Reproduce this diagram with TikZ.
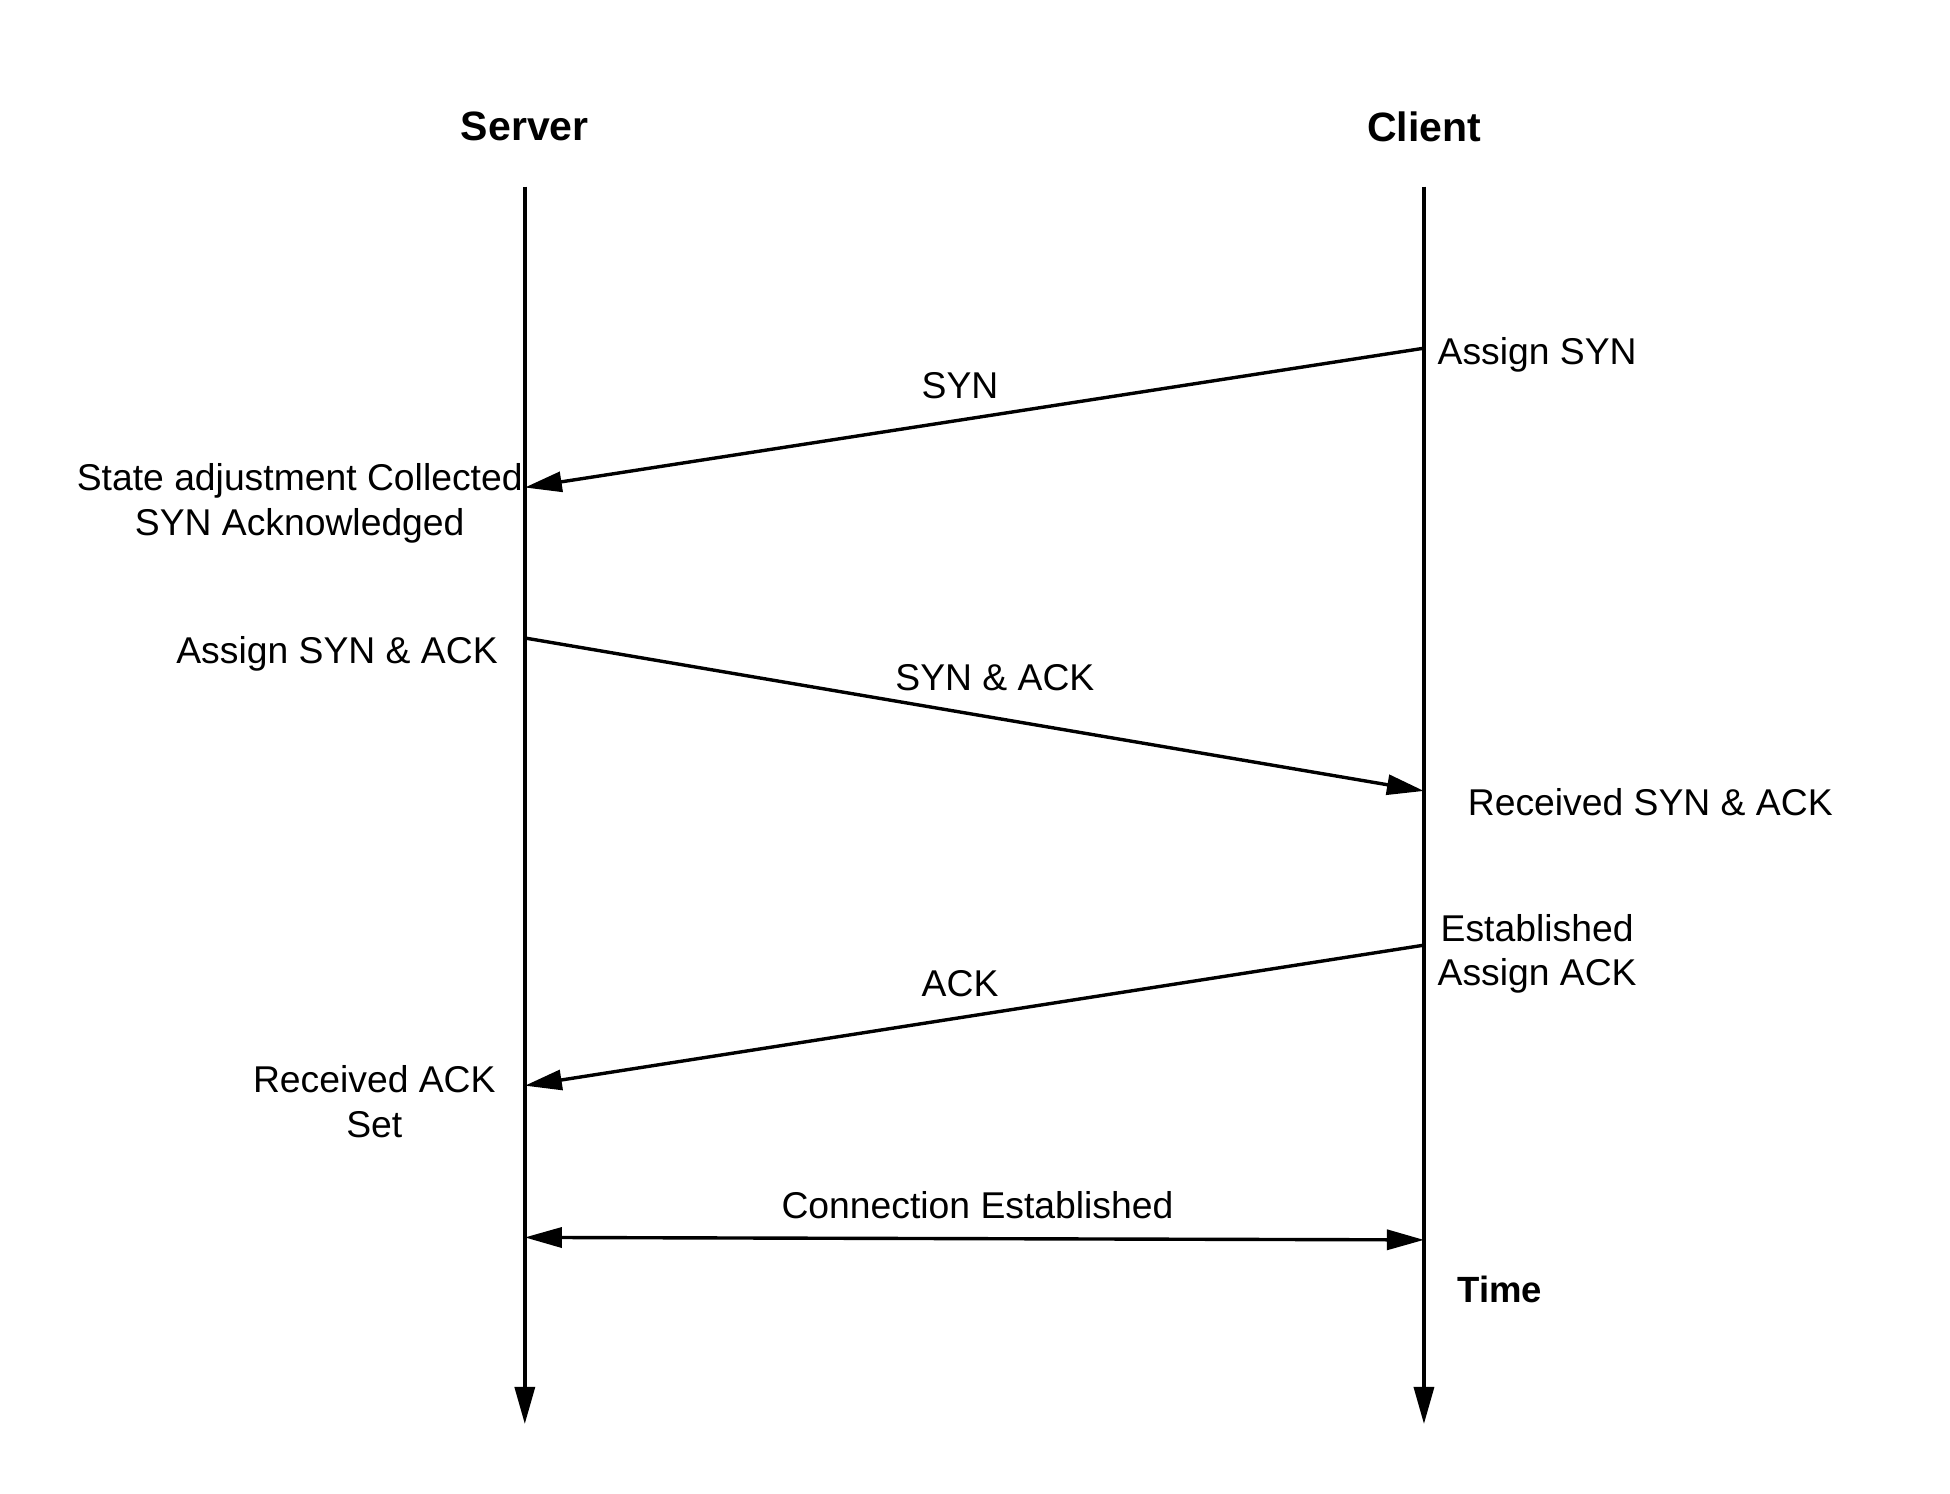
\documentclass[tikz,border=0pt]{standalone}
\usepackage{fontspec}
\setmainfont{Liberation Sans}
\usetikzlibrary{arrows.meta}
\begin{document}
\begin{tikzpicture}[x=1.2436pt,y=-1.2436pt,
  lifeline/.style={line width=3.4pt,-{Triangle[length=37pt,width=20pt]}},
  msg/.style={line width=3.4pt,-{Triangle[length=37pt,width=20pt]}},
  both/.style={line width=3.4pt,{Triangle[length=37pt,width=20pt]}-{Triangle[length=37pt,width=20pt]}},
  title/.style={font=\fontsize{41}{49}\selectfont\bfseries,inner sep=0pt},
  lbl/.style={font=\fontsize{37.3}{44.8}\selectfont,inner sep=0pt,align=center},
  tlbl/.style={font=\fontsize{36.5}{44}\selectfont\bfseries,inner sep=0pt}]
\useasboundingbox (0,0) rectangle (1568,1201);
\fill[white] (0,0) rectangle (1568,1201);
% titles
\node[title] (server) at (422,102) {Server};
\node[title] (client) at (1145,102) {Client};
% lifelines
\coordinate (s0) at (422,150);
\coordinate (s1) at (422,1145);
\coordinate (c0) at (1145,150);
\coordinate (c1) at (1145,1145);
\draw[lifeline] (s0) -- (s1);
\draw[lifeline] (c0) -- (c1);
% message endpoints
\coordinate (a1) at (1145,280);
\coordinate (a2) at (422,392);
\coordinate (b1) at (422,513);
\coordinate (b2) at (1145,636);
\coordinate (d1) at (1145,760);
\coordinate (d2) at (422,873);
\coordinate (e1) at (422,995);
\coordinate (e2) at (1145,997);
\draw[msg] (a1) -- (a2);
\draw[msg] (b1) -- (b2);
\draw[msg] (d1) -- (d2);
\draw[both] (e1) -- (e2);
% message labels
\node[lbl] (lsyn) at (772,310) {SYN};
\node[lbl] (lsynack) at (800,545) {SYN \& ACK};
\node[lbl] (lack) at (772,791) {ACK};
\node[lbl] (lconn) at (786,969) {Connection Established};
% state labels
\node[lbl] (n1) at (1236,285) {Assign SYN};
\node[lbl] (n2) at (241,405) {State adjustment Collected\\SYN Acknowledged};
\node[lbl] (n3) at (271,526) {Assign SYN \& ACK};
\node[lbl] (n4) at (1327,645) {Received SYN \& ACK};
\node[lbl] (n5) at (1236,767) {Established\\Assign ACK};
\node[lbl] (n6) at (301,886) {Received ACK\\Set};
\node[tlbl] (time) at (1206,1037) {Time};
\end{tikzpicture}
\end{document}
